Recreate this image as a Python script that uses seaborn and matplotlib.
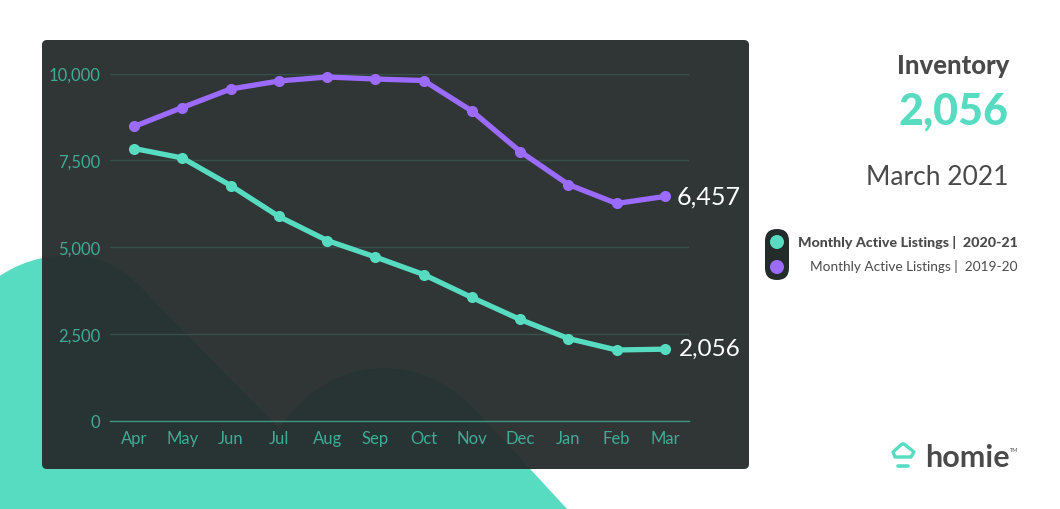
import matplotlib
matplotlib.use('Agg')
import matplotlib.pyplot as plt
import pandas as pd
import seaborn as sns
from matplotlib.patches import Circle, FancyBboxPatch, PathPatch, Polygon
from matplotlib.path import Path

# Data
months = ['Apr', 'May', 'Jun', 'Jul', 'Aug', 'Sep', 'Oct', 'Nov', 'Dec', 'Jan', 'Feb', 'Mar']
listings_2020_21 = [7838, 7565, 6772, 5879, 5187, 4712, 4207, 3545, 2911, 2363, 2032, 2056]
listings_2019_20 = [8473, 9020, 9553, 9784, 9899, 9841, 9798, 8919, 7752, 6801, 6254, 6457]
y_ticks = [0, 2500, 5000, 7500, 10000]

TEAL = '#57dcc1'
PURPLE = '#9b6bff'
PANEL = '#252b2b'
TICK = '#41ab95'
GREY = '#4a4a4a'

sns.set_theme(style='white')
plt.rcParams['font.family'] = ['Lato', 'DejaVu Sans']

df = pd.DataFrame({'month': months, '2020-21': listings_2020_21, '2019-20': listings_2019_20})

fig = plt.figure(figsize=(10.6, 5.1), dpi=100)
fig.patch.set_facecolor('white')

# Background layer in pixel coordinates
bg = fig.add_axes([0, 0, 1, 1], zorder=0)
bg.set_xlim(0, 1060)
bg.set_ylim(510, 0)
bg.axis('off')

blob = [
    (Path.MOVETO, (-5, 280)),
    (Path.CURVE4, (18, 264)),
    (Path.CURVE4, (42, 256)),
    (Path.CURVE4, (72, 256)),
    (Path.CURVE4, (102, 256)),
    (Path.CURVE4, (128, 272)),
    (Path.CURVE4, (150, 298)),
    (Path.LINETO, (279, 429)),
    (Path.CURVE4, (306, 392)),
    (Path.CURVE4, (340, 369)),
    (Path.CURVE4, (384, 369)),
    (Path.CURVE4, (426, 369)),
    (Path.CURVE4, (458, 390)),
    (Path.CURVE4, (484, 420)),
    (Path.LINETO, (568, 511)),
    (Path.LINETO, (-5, 511)),
    (Path.CLOSEPOLY, (-5, 280)),
]
codes, verts = zip(*blob)
bg.add_patch(PathPatch(Path(verts, codes), facecolor=TEAL, edgecolor='none'))

bg.add_patch(FancyBboxPatch((46, 45), 699, 421, boxstyle='round,pad=4,rounding_size=5',
                            facecolor=PANEL, edgecolor='none', alpha=0.95))

# Legend pill
bg.add_patch(FancyBboxPatch((765, 230), 24, 51, boxstyle='round,pad=0,rounding_size=12',
                            facecolor='#232b2b', edgecolor='none'))
bg.add_patch(Circle((777, 243), 7, facecolor=TEAL, edgecolor='none'))
bg.add_patch(Circle((777, 268), 7, facecolor=PURPLE, edgecolor='none'))

# Logo icon
bg.add_patch(Polygon([(893, 453), (902, 445), (904, 445), (914, 453), (911, 458), (895, 458)], closed=True,
                     facecolor='none', edgecolor=TEAL, linewidth=2.4, joinstyle='round'))
bg.plot([898, 908], [466.5, 466.5], color=TEAL, lw=2.6, solid_capstyle='round')

# Main chart
ax = fig.add_axes([110 / 1060, (510 - 421.5) / 510, 579 / 1060, 347 / 510], zorder=1)
ax.patch.set_alpha(0)
sns.lineplot(data=df, x='month', y='2019-20', ax=ax, color=PURPLE, linewidth=3.8, marker='o',
             markersize=8, markeredgewidth=0, sort=False, clip_on=False, zorder=3)
sns.lineplot(data=df, x='month', y='2020-21', ax=ax, color=TEAL, linewidth=3.8, marker='o',
             markersize=8, markeredgewidth=0, sort=False, clip_on=False, zorder=3)
ax.set_xlim(-0.5, 11.5)
ax.set_ylim(0, 10000)
ax.set_xlabel('')
ax.set_ylabel('')
ax.set_yticks(y_ticks)
ax.set_yticklabels([f'{v:,}' for v in y_ticks])
ax.grid(axis='y', color='#375049', linewidth=1)
ax.grid(axis='x', visible=False)
ax.set_axisbelow(True)
sns.despine(ax=ax, left=True, top=True, right=True)
ax.spines['bottom'].set_color('#3f9482')
ax.spines['bottom'].set_linewidth(1)
ax.tick_params(axis='both', length=0, labelcolor=TICK, labelsize=12)
ax.tick_params(axis='x', pad=7)
ax.tick_params(axis='y', pad=7)

# End labels
ax.annotate(f'{listings_2019_20[-1]:,}', (11, listings_2019_20[-1]), xytext=(8.5, 0), textcoords='offset points',
            color='white', fontsize=18, va='center', ha='left', annotation_clip=False)
ax.annotate(f'{listings_2020_21[-1]:,}', (11, listings_2020_21[-1]), xytext=(10, 0.5), textcoords='offset points',
            color='white', fontsize=17.5, va='center', ha='left', annotation_clip=False)

# Side panel text
bg.text(1009, 66, 'Inventory', color=GREY, fontsize=18.5, fontweight='black', ha='right', va='center')
bg.text(1009, 112, f'{listings_2020_21[-1]:,}', color=TEAL, fontsize=31, fontweight='black', ha='right', va='center')
bg.text(1009, 178, 'March 2021', color=GREY, fontsize=19, ha='right', va='center')
bg.text(1018, 243, 'Monthly Active Listings |  2020-21', color=GREY, fontsize=10.3, fontweight='black', ha='right', va='center')
bg.text(1018, 267, 'Monthly Active Listings |  2019-20', color=GREY, fontsize=9.8, ha='right', va='center')
bg.text(925, 458, 'homie', color=GREY, fontsize=22, fontweight='bold', ha='left', va='center')
bg.text(1010, 451, 'TM', color=GREY, fontsize=4, ha='left', va='center')

fig.savefig('out.png', dpi=100, facecolor='white')
